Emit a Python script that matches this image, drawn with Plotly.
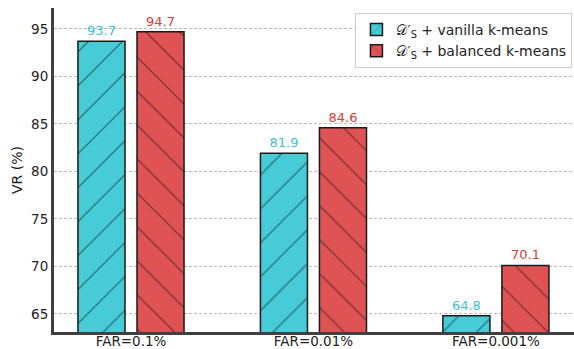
import plotly.graph_objects as go

categories = ["FAR=0.1%", "FAR=0.01%", "FAR=0.001%"]
vanilla = [93.7, 81.9, 64.8]
balanced = [94.7, 84.6, 70.1]
series_names = ["𝒟′<sub>S</sub> + vanilla k-means", "𝒟′<sub>S</sub> + balanced k-means"]
yticks = [65, 70, 75, 80, 85, 90, 95]

font = "DejaVu Sans"
blue, blue_txt = "#46CBD7", "#3DC3D2"
red, red_txt = "#E05355", "#D93B3D"

fig = go.Figure()
for vals, name, col, tcol, shape in [
    (vanilla, series_names[0], blue, blue_txt, "/"),
    (balanced, series_names[1], red, red_txt, "\\"),
]:
    fig.add_trace(go.Bar(
        x=categories, y=vals, name=name,
        marker=dict(color=col, line=dict(color="#1a1a1a", width=1.5),
                    pattern=dict(shape=shape, fgcolor="#000000", size=24, solidity=0.05)),
        text=[f"{v:.1f}" for v in vals], textposition="outside",
        textfont=dict(color=tcol, size=13, family=font),
        cliponaxis=False,
    ))

fig.update_layout(
    width=574, height=349, margin=dict(l=54, r=0, t=8, b=17),
    paper_bgcolor="white", plot_bgcolor="white",
    barmode="group", bargap=0.353, bargroupgap=0.203,
    font=dict(family=font, size=13, color="#222222"),
    showlegend=True,
    legend=dict(x=0.997, y=0.985, xanchor="right", yanchor="top",
                bgcolor="white", bordercolor="#cccccc", borderwidth=1,
                font=dict(size=14, family=font), tracegroupgap=2),
    xaxis=dict(range=[-0.422, 2.428], showline=True, linecolor="#404040", linewidth=3,
               ticks="", showgrid=False, automargin=False, ticklabelstandoff=-5,
               tickfont=dict(size=13.5)),
    yaxis=dict(range=[63.1, 97.2], tickvals=yticks, showline=True, linecolor="#404040",
               linewidth=3, ticks="", showgrid=True, gridcolor="#bbbbbb", griddash="3px,2px",
               gridwidth=1, zeroline=False, automargin=False, tickfont=dict(size=13.5),
               title=dict(text="VR (%)", standoff=6, font=dict(size=14))),
)

fig.write_html("out.html")
